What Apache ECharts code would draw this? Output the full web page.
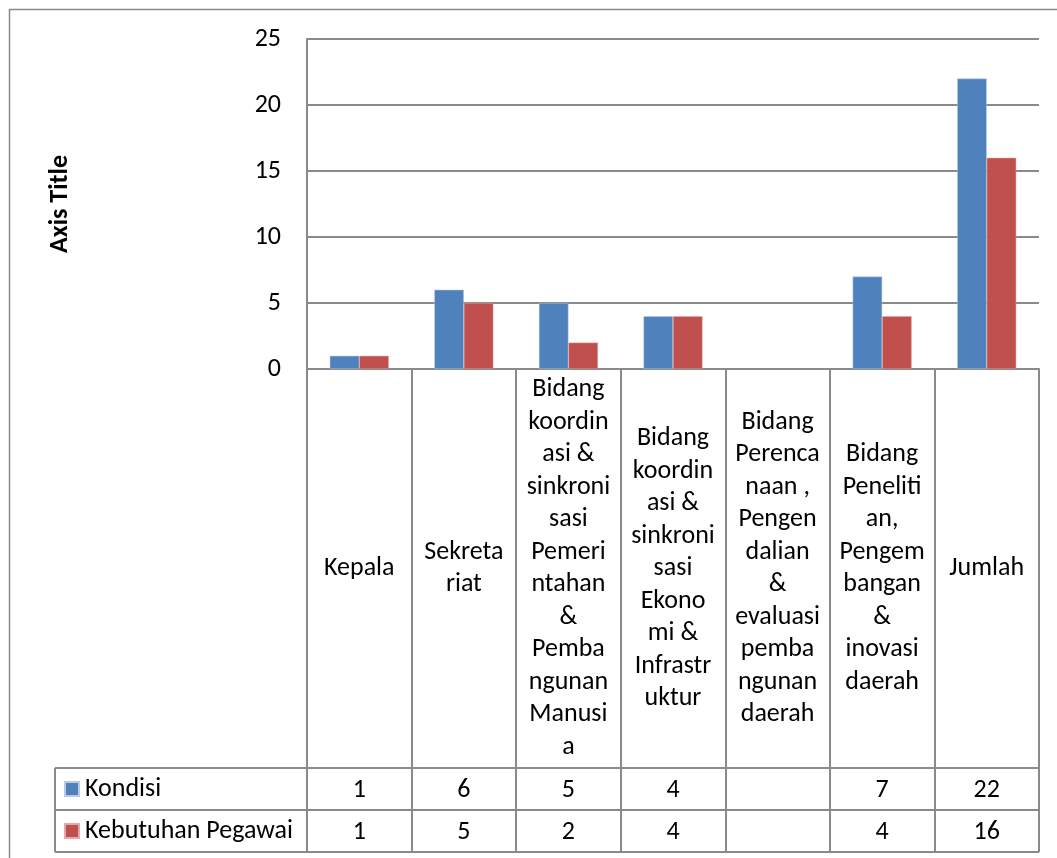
<!DOCTYPE html>
<html>
<head>
<meta charset="utf-8">
<script src="https://cdn.jsdelivr.net/npm/echarts@6/dist/echarts.min.js"></script>
<style>
  html, body { margin: 0; padding: 0; background: #fff; }
  #chart { width: 1057px; height: 858px; }
</style>
</head>
<body>
<div id="chart"></div>
<script>
// category labels, wrapped the way the cells show them
const categories = [
  "Kepala",
  "Sekreta\nriat",
  "Bidang\nkoordin\nasi &\nsinkroni\nsasi\nPemeri\nntahan\n&\nPemba\nngunan\nManusi\na",
  "Bidang\nkoordin\nasi &\nsinkroni\nsasi\nEkono\nmi &\nInfrastr\nuktur",
  "Bidang\nPerenca\nnaan ,\nPengen\ndalian\n&\nevaluasi\npemba\nngunan\ndaerah",
  "Bidang\nPeneliti\nan,\nPengem\nbangan\n&\ninovasi\ndaerah",
  "Jumlah"
];
const seriesNames = ["Kondisi", "Kebutuhan Pegawai"];
const kondisi = [1, 6, 5, 4, null, 7, 22];
const kebutuhan = [1, 5, 2, 4, null, 4, 16];
const yTicks = [0, 5, 10, 15, 20, 25];

const FONT = "Carlito, Lato, sans-serif";
const FS = 26;
const LINE = "#8a8a8a";
const colors = ["#4f81bd", "#c0504d"];

// layout
const plotLeft = 307, plotRight = 1039, plotTop = 39, plotBottom = 369;
const labelBottom = 768, rowH = 42, tableLeft = 55;

const chart = echarts.init(document.getElementById("chart"));

const cell = (vals) => (v, i) => (vals[i] == null ? "" : String(vals[i]));

// one legend per table row so each sits in its own row
const legends = seriesNames.map((name, i) => ({
  left: 61,
  top: labelBottom + rowH * i + rowH / 2 - 16,
  itemWidth: 14,
  itemHeight: 14,
  icon: "rect",
  selectedMode: false,
  padding: 3,
  textStyle: { fontSize: FS, color: "#000", fontFamily: FONT, padding: [0, 0, 0, 1] },
  data: [name]
}));

const rowAxis = (vals, row) => ({
  type: "category",
  data: categories,
  position: "bottom",
  axisLine: { show: false },
  axisTick: { show: false },
  axisLabel: {
    interval: 0,
    margin: labelBottom - plotBottom + rowH * row + rowH / 2 + 1,
    verticalAlign: "middle",
    fontSize: FS,
    color: "#000",
    fontFamily: FONT,
    formatter: cell(vals)
  }
});

const option = {
  backgroundColor: "#fff",
  color: colors,
  textStyle: { fontFamily: FONT },
  grid: {
    left: plotLeft,
    top: plotTop,
    width: plotRight - plotLeft,
    height: plotBottom - plotTop
  },
  legend: legends,
  xAxis: [
    {
      type: "category",
      data: categories,
      position: "bottom",
      axisLine: { show: true, lineStyle: { color: LINE, width: 2 } },
      axisTick: { show: true, length: labelBottom + 2 * rowH - plotBottom, lineStyle: { color: LINE, width: 2 } },
      axisLabel: {
        interval: 0,
        margin: (labelBottom - plotBottom) / 2,
        verticalAlign: "middle",
        lineHeight: 32.5,
        fontSize: FS,
        color: "#000",
        fontFamily: FONT
      }
    },
    rowAxis(kondisi, 0),
    rowAxis(kebutuhan, 1)
  ],
  yAxis: {
    type: "value",
    min: yTicks[0],
    max: yTicks[yTicks.length - 1],
    interval: yTicks[1] - yTicks[0],
    name: "Axis Title",
    nameLocation: "middle",
    nameGap: 234,
    nameTextStyle: { fontSize: 26, fontWeight: "bold", color: "#000", fontFamily: FONT },
    axisLine: { show: true, lineStyle: { color: LINE, width: 2 } },
    axisTick: { show: false },
    splitLine: { lineStyle: { color: LINE, width: 2 } },
    axisLabel: { fontSize: FS, color: "#000", margin: 26, fontFamily: FONT }
  },
  series: [
    {
      name: seriesNames[0],
      type: "bar",
      data: kondisi,
      barWidth: 29.5,
      barGap: "0%",
      itemStyle: { borderColor: "#b9cbe4", borderWidth: 0.5 }
    },
    {
      name: seriesNames[1],
      type: "bar",
      data: kebutuhan,
      barWidth: 29.5,
      barGap: "0%",
      itemStyle: { borderColor: "#e2a9a8", borderWidth: 0.5 }
    }
  ],
  graphic: [
    // outer chart frame
    { type: "rect", shape: { x: 9.5, y: 9.5, width: 1080, height: 900 }, style: { fill: null, stroke: LINE, lineWidth: 1.5 } },
    // data table lines
    { type: "line", shape: { x1: tableLeft, y1: labelBottom, x2: plotRight, y2: labelBottom }, style: { stroke: LINE, lineWidth: 2 } },
    { type: "line", shape: { x1: tableLeft, y1: labelBottom + rowH, x2: plotRight, y2: labelBottom + rowH }, style: { stroke: LINE, lineWidth: 2 } },
    { type: "line", shape: { x1: tableLeft, y1: labelBottom + 2 * rowH, x2: plotRight, y2: labelBottom + 2 * rowH }, style: { stroke: LINE, lineWidth: 2 } },
    { type: "line", shape: { x1: tableLeft, y1: labelBottom, x2: tableLeft, y2: labelBottom + 2 * rowH }, style: { stroke: LINE, lineWidth: 2 } }
  ]
};

chart.setOption(option);
</script>
</body>
</html>
